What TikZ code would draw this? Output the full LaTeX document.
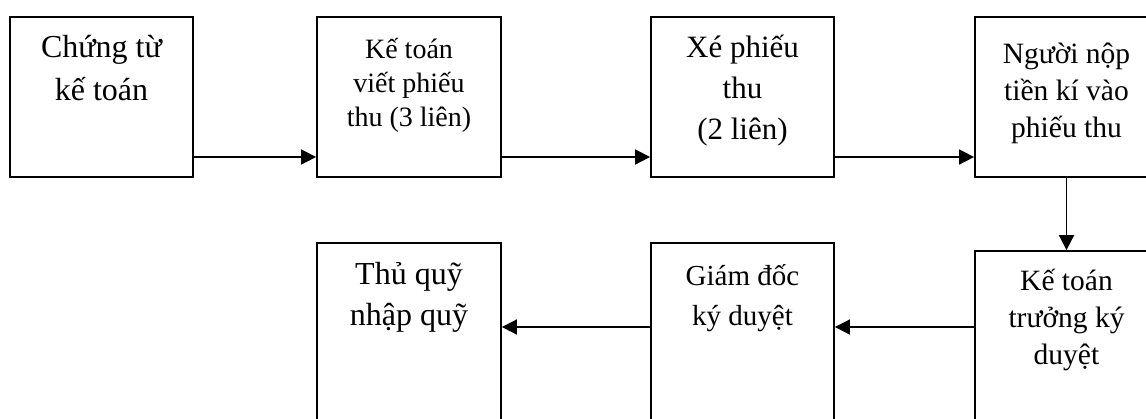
\documentclass[tikz,border=0pt]{standalone}
\usepackage{fontspec}
\setmainfont{Liberation Serif}
\usetikzlibrary{arrows.meta}
\tikzset{
  box/.style={draw, line width=1.8bp, rectangle, inner sep=0pt},
  lbl/.style={anchor=base, align=center, inner sep=0pt},
  arr/.style={line width=1.8bp, -{Triangle[length=15bp,width=15bp]}}
}
\newcommand{\fsz}[2]{\fontsize{#1bp}{#2bp}\selectfont}
\begin{document}
\begin{tikzpicture}[x=1bp,y=-1bp]
\useasboundingbox (0,0) rectangle (1146,418);
\clip (0,0) rectangle (1146,418);
% boxes
\node[box, minimum width=183bp, minimum height=160bp] (b1) at (101.5,97) {};
\node[box, minimum width=184bp, minimum height=160bp] (b2) at (409,97) {};
\node[box, minimum width=183bp, minimum height=160bp] (b3) at (742.5,97) {};
\node[box, minimum width=183bp, minimum height=160bp] (b4) at (1066.5,97) {};
\node[box, minimum width=183bp, minimum height=190bp] (b5) at (1066.5,346) {};
\node[box, minimum width=183bp, minimum height=190bp] (b6) at (742.5,338) {};
\node[box, minimum width=184bp, minimum height=190bp] (b7) at (409,338) {};
% labels (anchored at the baseline of the last line)
\node[lbl, font=\fsz{32}{43}] (t1) at (101.5,100) {Chứng từ\\kế toán};
\node[lbl, font=\fsz{28}{34}] (t2) at (409,126) {Kế toán\\viết phiếu\\thu (3 liên)};
\node[lbl, font=\fsz{31}{41}] (t3) at (742.5,139) {Xé phiếu\\thu\\(2 liên)};
\node[lbl, font=\fsz{29.5}{37}] (t4) at (1066.5,137) {Người nộp\\tiền kí vào\\phiếu thu};
\node[lbl, font=\fsz{29.5}{37}] (t5) at (1066.5,364) {Kế toán\\trưởng ký\\duyệt};
\node[lbl, font=\fsz{29}{40}] (t6) at (742.5,325) {Giám đốc\\ký duyệt};
\node[lbl, font=\fsz{32}{41}] (t7) at (409,325) {Thủ quỹ\\nhập quỹ};
% connectors
\coordinate (r1) at (0,157);
\coordinate (r2) at (0,327);
\draw[arr] (b1.east |- r1) -- (b2.west |- r1);
\draw[arr] (b2.east |- r1) -- (b3.west |- r1);
\draw[arr] (b3.east |- r1) -- (b4.west |- r1);
\draw[arr] (b4.south) -- (b5.north);
\draw[arr] (b5.west |- r2) -- (b6.east |- r2);
\draw[arr] (b6.west |- r2) -- (b7.east |- r2);
\end{tikzpicture}
\end{document}
